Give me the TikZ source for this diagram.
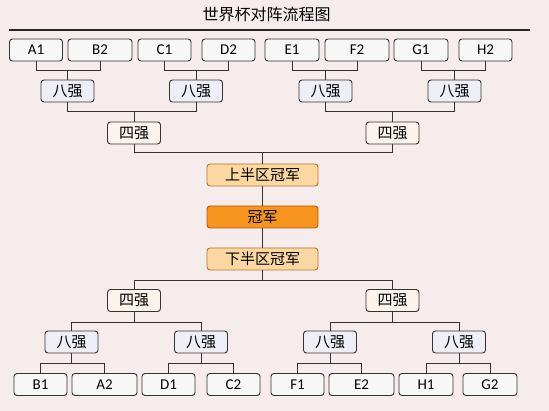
\documentclass[tikz,border=0pt]{standalone}
\usepackage{fontspec}
\setmainfont{Carlito}
\newfontfamily\cjk{Noto Sans CJK SC}
\usepackage{tikz}
\usetikzlibrary{positioning}
\definecolor{bgpink}{HTML}{F6ECEC}
\definecolor{teamfill}{HTML}{F8F7F7}
\definecolor{eightfill}{HTML}{EEEEF7}
\definecolor{fourfill}{HTML}{FCF4EA}
\definecolor{halffill}{HTML}{FBD8A2}
\definecolor{halfdraw}{HTML}{B87428}
\definecolor{champfill}{HTML}{F7941E}
\definecolor{champdraw}{HTML}{B05E0C}
\definecolor{linegray}{HTML}{333333}

\begin{document}
\begin{tikzpicture}[x=1pt, y=-1pt,
  box/.style={draw=linegray, line width=0.9pt, rounded corners=3pt,
    minimum height=22pt, inner sep=0pt, font=\fontsize{15}{17}\selectfont},
  team/.style={box, fill=teamfill, minimum width=53pt},
  eight/.style={box, fill=eightfill, minimum width=53pt, font=\cjk\fontsize{15}{17}\selectfont},
  four/.style={box, fill=fourfill, minimum width=53pt, font=\cjk\fontsize{15}{17}\selectfont},
  half/.style={box, draw=halfdraw, fill=halffill, minimum width=111pt, font=\cjk\fontsize{15}{17}\selectfont},
  champ/.style={half, draw=champdraw, fill=champfill},
  link/.style={draw=linegray, line width=0.8pt}
]
  % Background and frame
  \fill[bgpink] (0,0) rectangle (549,411);
  \useasboundingbox (0,0) rectangle (549,411);

  % Title
  \node[font=\cjk\fontsize{16}{18}\selectfont] (title) at (266.5,14.5) {世界杯对阵流程图};
  \draw[line width=1.6pt, black!85] (9,30) -- (530,30);

  % Upper half: group teams
  \node[team] (A1) at (36,50) {A1};
  \node[team, minimum width=64pt] (B2) at (100,50) {B2};
  \node[team] (C1) at (164.5,50) {C1};
  \node[team] (D2) at (228.5,50) {D2};
  \node[team, minimum width=54pt] (E1) at (292,50) {E1};
  \node[team, minimum width=64pt] (F2) at (357,50) {F2};
  \node[team, minimum width=54pt] (G1) at (421,50) {G1};
  \node[team] (H2) at (485.5,50) {H2};

  % Upper half: quarter-finals and semi-finals
  \node[eight] (ua) at (67.5,91) {八强};
  \node[eight] (ub) at (196,91) {八强};
  \node[eight] (uc) at (325.5,91) {八强};
  \node[eight] (ud) at (454.5,91) {八强};
  \node[four] (us1) at (134,133) {四强};
  \node[four] (us2) at (392.5,133) {四强};

  % Finals
  \node[half] (upper) at (262.5,175) {上半区冠军};
  \node[champ] (final) at (262.5,217) {冠军};
  \node[half] (lower) at (262.5,259) {下半区冠军};

  % Lower half: semi-finals and quarter-finals
  \node[four] (ls1) at (134,300.5) {四强};
  \node[four] (ls2) at (392.5,300.5) {四强};
  \node[eight] (la) at (71.5,342) {八强};
  \node[eight] (lb) at (201,342) {八强};
  \node[eight] (lc) at (330,342) {八强};
  \node[eight] (ld) at (459,342) {八强};

  % Lower half: group teams
  \node[team] (B1) at (40.5,384.5) {B1};
  \node[team, minimum width=65pt] (A2) at (104.5,384.5) {A2};
  \node[team] (D1) at (168.5,384.5) {D1};
  \node[team] (C2) at (233.5,384.5) {C2};
  \node[team] (F1) at (297.5,384.5) {F1};
  \node[team, minimum width=65pt] (E2) at (361.5,384.5) {E2};
  \node[team, minimum width=54pt] (H1) at (426,384.5) {H1};
  \node[team, minimum width=54pt] (G2) at (490,384.5) {G2};

  % Upper bracket
  \draw[link] (ua.north) -- ++(0,-9.5) -| (A1.south);
  \draw[link] (ua.north) -- ++(0,-9.5) -| (B2.south);
  \draw[link] (ub.north) -- ++(0,-9.5) -| (C1.south);
  \draw[link] (ub.north) -- ++(0,-9.5) -| (D2.south);
  \draw[link] (uc.north) -- ++(0,-9.5) -| (E1.south);
  \draw[link] (uc.north) -- ++(0,-9.5) -| (F2.south);
  \draw[link] (ud.north) -- ++(0,-9.5) -| (G1.south);
  \draw[link] (ud.north) -- ++(0,-9.5) -| (H2.south);
  \draw[link] (us1.north) -- ++(0,-10) -| (ua.south);
  \draw[link] (us1.north) -- ++(0,-10) -| (ub.south);
  \draw[link] (us2.north) -- ++(0,-10) -| (uc.south);
  \draw[link] (us2.north) -- ++(0,-10) -| (ud.south);
  \draw[link] (upper.north) -- ++(0,-11) -| (us1.south);
  \draw[link] (upper.north) -- ++(0,-11) -| (us2.south);

  % Final line
  \draw[link] (upper.south) -- (final.north);
  \draw[link] (final.south) -- (lower.north);

  % Lower bracket
  \draw[link] (lower.south) -- ++(0,10) -| (ls1.north);
  \draw[link] (lower.south) -- ++(0,10) -| (ls2.north);
  \draw[link] (ls1.south) -- ++(0,10) -| (la.north);
  \draw[link] (ls1.south) -- ++(0,10) -| (lb.north);
  \draw[link] (ls2.south) -- ++(0,10) -| (lc.north);
  \draw[link] (ls2.south) -- ++(0,10) -| (ld.north);
  \draw[link] (la.south) -- ++(0,10) -| (B1.north);
  \draw[link] (la.south) -- ++(0,10) -| (A2.north);
  \draw[link] (lb.south) -- ++(0,10) -| (D1.north);
  \draw[link] (lb.south) -- ++(0,10) -| (C2.north);
  \draw[link] (lc.south) -- ++(0,10) -| (F1.north);
  \draw[link] (lc.south) -- ++(0,10) -| (E2.north);
  \draw[link] (ld.south) -- ++(0,10) -| (H1.north);
  \draw[link] (ld.south) -- ++(0,10) -| (G2.north);
\end{tikzpicture}
\end{document}
